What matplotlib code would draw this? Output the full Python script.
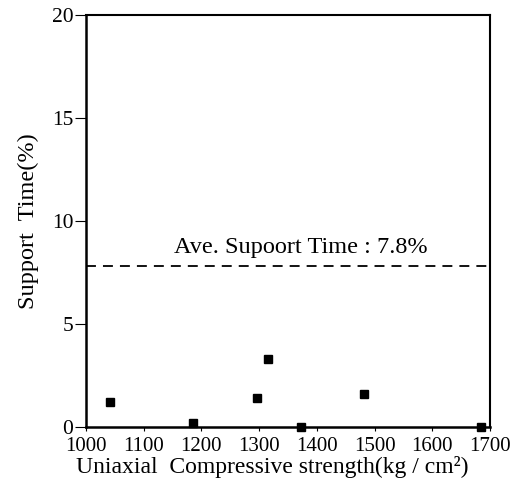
from matplotlib import pyplot as plt

strength = [1042, 1186, 1297, 1315, 1373, 1482, 1684]
support_time = [1.2, 0.2, 1.4, 3.3, 0.0, 1.6, 0.0]
ave_time = 7.8
xticks = [1000, 1100, 1200, 1300, 1400, 1500, 1600, 1700]
yticks = [0, 5, 10, 15, 20]

plt.rcParams["font.family"] = ["Liberation Serif", "DejaVu Serif"]

fig = plt.figure(figsize=(5.21, 4.86), dpi=100)
ax = fig.add_axes([0.165, 0.1214, 0.7755, 0.8476])

ax.plot(strength, support_time, "s", color="black", markersize=6, clip_on=False, zorder=3)
ax.axhline(ave_time, color="black", lw=1.3, dashes=(5.5, 3.9))
ax.text(1152, 8.45, "Ave. Supoort Time : 7.8%", fontsize=17.5, va="baseline", ha="left")

ax.set_xlim(1000, 1700)
ax.set_ylim(0, 20)
ax.set_xticks(xticks)
ax.set_yticks(yticks)
ax.tick_params(axis="x", direction="out", length=3, labelsize=15, pad=4.5)
ax.tick_params(axis="y", direction="out", length=8, labelsize=15.5, pad=1)
for side in ["left", "bottom"]:
    ax.spines[side].set_linewidth(1.8)
for side in ["top", "right"]:
    ax.spines[side].set_linewidth(1.5)

ax.set_xlabel("Uniaxial  Compressive strength(kg / cm²)", fontsize=17, va="center")
ax.xaxis.set_label_coords(0.46, -0.097)
ax.set_ylabel("Support  Time(%)", fontsize=17.5, labelpad=9)

fig.savefig("out.png", dpi=100)
